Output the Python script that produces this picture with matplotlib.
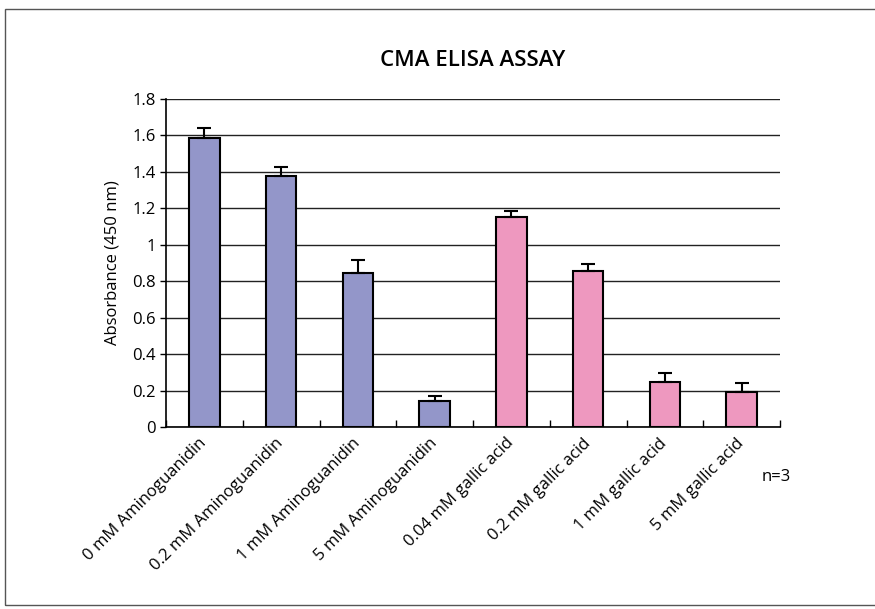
import numpy as np
import matplotlib.pyplot as plt
from matplotlib.patches import Rectangle

# ---- Data ---- #
labels = ["0 mM Aminoguanidin", "0.2 mM Aminoguanidin", "1 mM Aminoguanidin",
          "5 mM Aminoguanidin", "0.04 mM gallic acid", "0.2 mM gallic acid",
          "1 mM gallic acid", "5 mM gallic acid"]
values = [1.585, 1.375, 0.845, 0.14, 1.15, 0.855, 0.245, 0.19]
errors = [0.055, 0.05, 0.07, 0.03, 0.035, 0.04, 0.05, 0.05]
colors = ["#9396C9"] * 4 + ["#EE98BF"] * 4
yticks = [0, 0.2, 0.4, 0.6, 0.8, 1, 1.2, 1.4, 1.6, 1.8]
yticklabels = ["0", "0.2", "0.4", "0.6", "0.8", "1", "1.2", "1.4", "1.6", "1.8"]

plt.rcParams['font.family'] = ['Open Sans', 'DejaVu Sans']

fig = plt.figure(figsize=(8.75, 6.09), dpi=100)
# outer chart border
fig.patches.append(Rectangle((5 / 875, 1 - 605 / 609), 1.0, (605 - 9) / 609,
                             transform=fig.transFigure, fill=False,
                             edgecolor="#555555", linewidth=1.0))

ax = fig.add_axes([166 / 875, 1 - 427 / 609, (780 - 166) / 875, (427 - 99) / 609])
x = np.arange(len(values))
ax.bar(x, values, width=0.4, color=colors, edgecolor="black", linewidth=1.5, zorder=3)
ax.errorbar(x, values, yerr=[np.zeros(len(errors)), errors], fmt="none",
            ecolor="black", elinewidth=1.5, capsize=5, capthick=1.5, zorder=4)

ax.set_xlim(-0.5, len(values) - 0.5)
ax.set_ylim(0, 1.8)
ax.set_yticks(yticks)
ax.set_yticklabels(yticklabels, fontsize=12)
ax.yaxis.grid(True, color="#222222", linewidth=1.0, zorder=0)
ax.set_axisbelow(True)

# category boundary ticks
ax.set_xticks(np.arange(-0.5, len(values) + 0.5, 1), minor=False)
ax.set_xticklabels([])
ax.tick_params(axis="x", direction="in", length=5, width=1)
ax.set_xticks(x, minor=True)
ax.set_xticklabels(labels, minor=True, rotation=45, ha="right", va="center",
                   rotation_mode="anchor", fontsize=12)
ax.tick_params(axis="x", which="minor", length=0, pad=10)
ax.tick_params(axis="y", direction="out", length=4, width=1)

for s in ["top", "right"]:
    ax.spines[s].set_visible(False)
ax.spines["left"].set_linewidth(1.2)
ax.spines["bottom"].set_linewidth(1.2)

ax.set_ylabel("Absorbance (450 nm)", fontsize=12, labelpad=8)
fig.text(473 / 875, 1 - 60 / 609, "CMA ELISA ASSAY", ha="center", va="center",
         fontsize=16, fontweight="semibold")
fig.text(762 / 875, 1 - 477 / 609, "n=3", ha="left", va="center", fontsize=12)

fig.savefig("out.png", dpi=100)
